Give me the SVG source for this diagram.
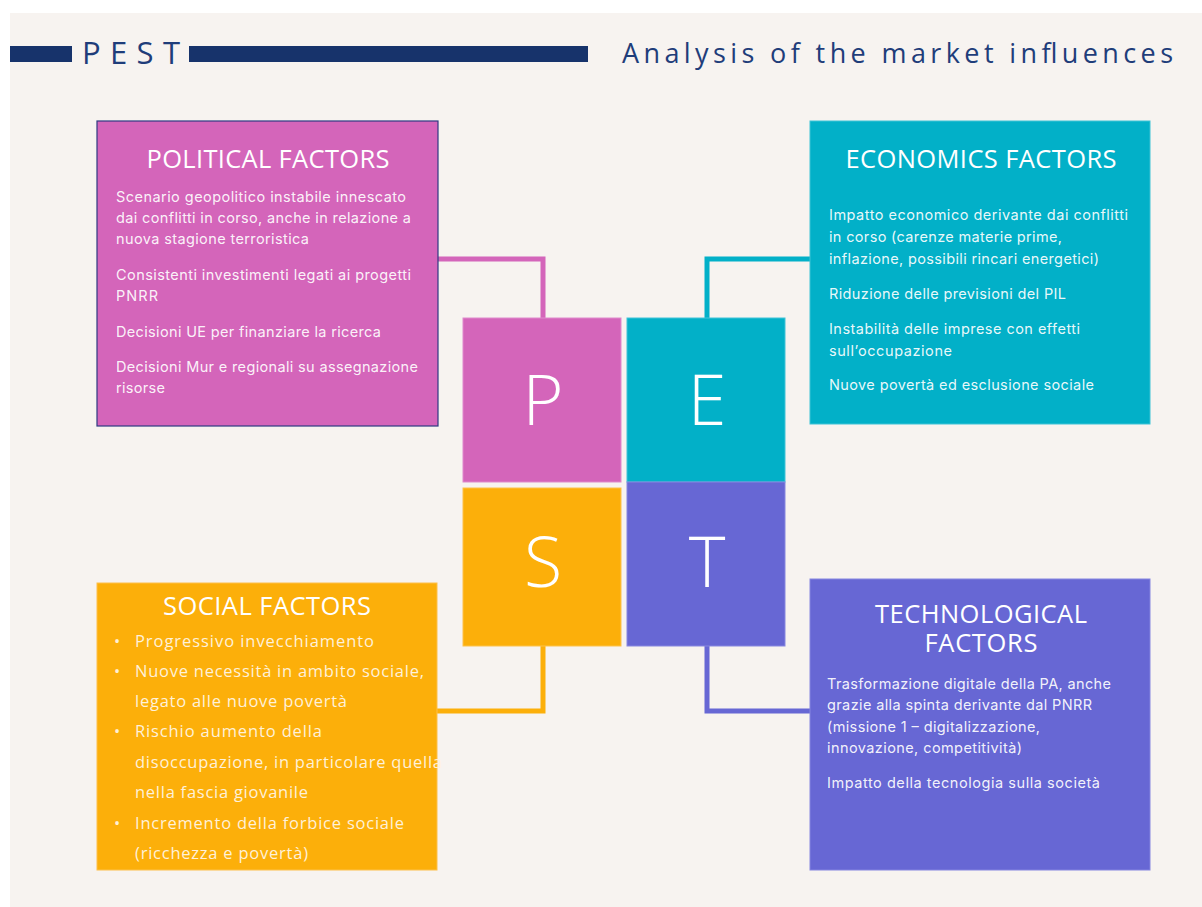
<svg xmlns="http://www.w3.org/2000/svg" width="1202" height="907" viewBox="0 0 1202 907">
<defs>
<style>
.bg{fill:#F7F3F0}
.bar{fill:#17336B}
.head{font-family:"Open Sans","Liberation Sans",sans-serif;fill:#1F3D7A}
.title{font-family:"Open Sans","Liberation Sans",sans-serif;font-size:25.5px;fill:#ffffff;text-anchor:middle}
.body{font-family:Inter,"Liberation Sans",sans-serif;font-size:14.5px;fill:#ffffff;fill-opacity:0.93}
.sbody{font-family:"Open Sans","Liberation Sans",sans-serif;font-size:16.5px;fill:#FFF1D9}
.big{font-family:"Open Sans","Liberation Sans",sans-serif;font-size:70px;font-weight:300;fill:#ffffff;text-anchor:middle}
.conn{fill:none;stroke-width:5;stroke-linejoin:miter;stroke-linecap:butt}
</style>
</defs>
<rect x="0" y="0" width="1202" height="907" fill="#ffffff"/>
<rect class="bg" x="10" y="13" width="1192" height="894"/>

<g id="header">
<rect class="bar" x="10" y="46" width="62" height="16"/>
<rect class="bar" x="189" y="46" width="399" height="16"/>
<text class="head" x="82" y="64" font-size="31" textLength="98">PEST</text>
<text class="head" x="622" y="63" font-size="27" textLength="551">Analysis of the market influences</text>
</g>

<g id="connectors">
<path class="conn" stroke="#D465BA" d="M438,259 H543 V318"/>
<path class="conn" stroke="#02B0C8" d="M810,259 H707 V318"/>
<path class="conn" stroke="#FCAF0A" d="M543,646 V711 H437"/>
<path class="conn" stroke="#6767D4" d="M707,646 V711 H810"/>
</g>

<g id="political">
<rect x="97" y="121" width="341" height="305" fill="#D465BA" stroke="#2E3A82" stroke-width="1.2"/>
<text class="title" x="268" y="168" textLength="243">POLITICAL FACTORS</text>
<text class="body" x="116" y="202" textLength="290">Scenario geopolitico instabile innescato</text>
<text class="body" x="116" y="223" textLength="295">dai conflitti in corso, anche in relazione a</text>
<text class="body" x="116" y="244" textLength="193">nuova stagione terroristica</text>
<text class="body" x="116" y="280" textLength="295">Consistenti investimenti legati ai progetti</text>
<text class="body" x="116" y="301" textLength="42">PNRR</text>
<text class="body" x="116" y="337" textLength="265">Decisioni UE per finanziare la ricerca</text>
<text class="body" x="116" y="372" textLength="302">Decisioni Mur e regionali su assegnazione</text>
<text class="body" x="116" y="393" textLength="49">risorse</text>
</g>

<g id="economics">
<rect x="810" y="121" width="340" height="303" fill="#02B0C8" stroke="#3CC3D6" stroke-width="1"/>
<text class="title" x="981" y="168" textLength="271">ECONOMICS FACTORS</text>
<text class="body" x="829" y="220" textLength="299">Impatto economico derivante dai conflitti</text>
<text class="body" x="829" y="242" textLength="233">in corso (carenze materie prime,</text>
<text class="body" x="829" y="264" textLength="270">inflazione, possibili rincari energetici)</text>
<text class="body" x="829" y="299" textLength="237">Riduzione delle previsioni del PIL</text>
<text class="body" x="829" y="334" textLength="251">Instabilità delle imprese con effetti</text>
<text class="body" x="829" y="356" textLength="123">sull’occupazione</text>
<text class="body" x="829" y="390" textLength="265">Nuove povertà ed esclusione sociale</text>
</g>

<g id="social">
<rect x="97" y="583" width="340" height="287" fill="#FCAF0A" stroke="#FDC04A" stroke-width="1"/>
<text class="title" x="267" y="615" textLength="208">SOCIAL FACTORS</text>
<g class="sbody">
<text x="114" y="647">•</text>
<text x="114" y="677">•</text>
<text x="114" y="737">•</text>
<text x="114" y="829">•</text>
<text x="135" y="647" textLength="239">Progressivo invecchiamento</text>
<text x="135" y="677" textLength="289">Nuove necessità in ambito sociale,</text>
<text x="135" y="707" textLength="212">legato alle nuove povertà</text>
<text x="135" y="737" textLength="187">Rischio aumento della</text>
<text x="135" y="768" textLength="307">disoccupazione, in particolare quella</text>
<text x="135" y="798" textLength="173">nella fascia giovanile</text>
<text x="135" y="829" textLength="269">Incremento della forbice sociale</text>
<text x="135" y="859" textLength="173">(ricchezza e povertà)</text>
</g>
</g>

<g id="technological">
<rect x="810" y="579" width="340" height="291" fill="#6767D4" stroke="#8585E0" stroke-width="1"/>
<text class="title"><tspan x="981" y="623" textLength="212">TECHNOLOGICAL</tspan><tspan x="981" y="652" textLength="113">FACTORS</tspan></text>
<text class="body" x="827" y="689" textLength="284">Trasformazione digitale della PA, anche</text>
<text class="body" x="827" y="710" textLength="265">grazie alla spinta derivante dal PNRR</text>
<text class="body" x="827" y="732" textLength="213">(missione 1 – digitalizzazione,</text>
<text class="body" x="827" y="753" textLength="195">innovazione, competitività)</text>
<text class="body" x="827" y="788" textLength="273">Impatto della tecnologia sulla società</text>
</g>

<g id="sq-P">
<rect x="463" y="318" width="158" height="164" fill="#D465BA" stroke="#E08ACB" stroke-width="1"/>
<text class="big" x="543" y="425">P</text>
</g>
<g id="sq-E">
<rect x="627" y="318" width="158" height="164" fill="#02B0C8" stroke="#40C4D8" stroke-width="1"/>
<text class="big" x="707" y="425">E</text>
</g>
<g id="sq-S">
<rect x="463" y="488" width="158" height="158" fill="#FCAF0A" stroke="#FDC24A" stroke-width="1"/>
<text class="big" x="543" y="587">S</text>
</g>
<g id="sq-T">
<rect x="627" y="482" width="158" height="164" fill="#6767D4" stroke="#8888E0" stroke-width="1"/>
<text class="big" x="707" y="587">T</text>
</g>
</svg>
